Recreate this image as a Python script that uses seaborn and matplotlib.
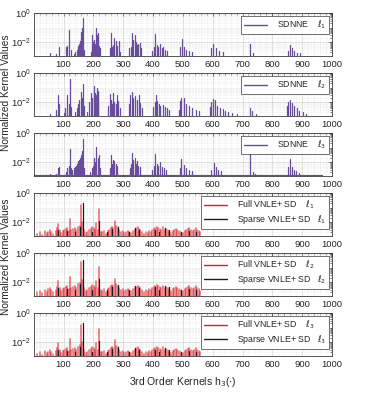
import numpy as np
import pandas as pd
import matplotlib
matplotlib.use("Agg")
import matplotlib.pyplot as plt
from matplotlib.lines import Line2D
from matplotlib.ticker import MultipleLocator, LogLocator, NullFormatter
import seaborn as sns

# ---- data (kernel magnitudes, in units of 1e-3) ----

sdnne_l1_pos = [55, 75, 84, 108, 113, 120, 125, 136, 140, 144, 147, 150, 153, 156, 158, 160, 162, 164, 167,
                192, 195, 197, 200, 203, 206, 209, 212, 216, 219, 222,
                255, 258, 262, 266, 270, 275, 280, 285, 290,
                320, 325, 330, 334, 338, 342, 346, 350, 355, 360,
                395, 402, 408, 412, 418, 424, 430, 435, 440, 448,
                490, 497, 503, 512, 521, 530,
                593, 602, 611, 622, 634, 725, 734,
                851, 858, 866, 873, 884, 893]
sdnne_l1_val = [1.8, 1.7, 5, 4.5, 6, 70, 3, 1.5, 2, 3, 4, 6, 8, 12, 20, 50, 100, 450, 3,
                2, 6, 30, 10, 15, 8, 100, 30, 40, 6, 4,
                4, 40, 5, 7, 20, 12, 6, 12, 2,
                4, 5, 40, 15, 30, 10, 7, 8, 9, 4,
                2.5, 5, 35, 7, 5, 8, 4, 5, 3, 2.5,
                5, 16, 5, 3, 2.5, 2,
                4, 8, 4, 2.5, 2, 8, 1.8,
                2.7, 7, 4, 2.5, 1.8, 1.8]

sdnne_l2_pos = [56, 76, 82, 86, 100, 106, 113, 117, 121, 125,
                140, 144, 148, 152, 157, 161, 165, 168,
                180, 186, 192, 196, 201, 205, 208, 211, 214, 217,
                250, 255, 258, 262, 266, 270, 275, 279, 284, 288,
                318, 324, 330, 334, 340, 346, 352, 357, 362,
                400, 405, 410, 414, 419, 425, 432, 440, 448, 455,
                487, 491, 495, 503, 512, 521, 532, 543, 555,
                591, 596, 602, 608, 615, 625, 634, 641, 653, 664, 680,
                725, 733, 745,
                848, 854, 860, 865, 873, 882, 891, 902, 913]
sdnne_l2_val = [1.5, 3, 30, 8, 1.8, 4, 30, 8, 370, 5,
                2, 4, 8, 15, 50, 20, 190, 6,
                2, 10, 40, 20, 130, 40, 30, 100, 20, 60,
                6, 35, 15, 8, 40, 10, 8, 30, 12, 4,
                8, 30, 50, 20, 25, 15, 30, 9, 4,
                5, 10, 30, 12, 8, 6, 7, 5, 4, 3,
                3, 12, 21, 21, 8, 6, 4.3, 3, 2.5,
                4.5, 11, 18, 14, 6, 4, 3.5, 2.5, 2, 1.8, 1.5,
                4.3, 2.5, 1.7,
                6, 11, 14, 9, 6, 4, 2.5, 2, 1.7]

sdnne_l3_pos = [55, 75, 80, 85, 108, 113, 117, 121, 125,
                130, 134, 138, 141, 144, 147, 150, 153, 156, 159, 162, 164, 167,
                190, 194, 198, 202, 206, 210, 214, 218, 222,
                255, 258, 262, 266, 270, 275, 280,
                322, 326, 330, 334, 338, 342, 346, 350, 355,
                396, 402, 408, 412, 418, 424, 430, 436, 444,
                490, 495, 503, 512, 521, 530,
                596, 604, 611, 618, 628, 725, 734, 742,
                851, 860, 866, 873, 880, 890]
sdnne_l3_val = [1.5, 1.5, 4, 5, 2, 4, 6, 80, 4,
                3, 4, 5, 6, 8, 10, 12, 15, 20, 30, 60, 420, 4,
                2, 4, 6, 20, 10, 110, 20, 30, 4,
                4, 30, 8, 15, 12, 8, 6,
                4, 8, 45, 15, 20, 8, 12, 6, 5,
                3, 6, 35, 8, 6, 10, 5, 4, 3,
                4, 18, 7, 4, 3, 2.5,
                3, 9, 5, 3, 2.5, 50, 2, 1.7,
                5, 18, 5, 3, 2.5, 1.8]
sdnne_l3_floor = 1.2      # flat baseline of the l3 kernel vector
sdnne_l3_last = 970

full_pos = [12, 20, 28, 37, 43, 48, 54, 58, 66, 74,
            79, 82, 87, 92, 98, 103, 108, 112, 117, 121,
            126, 131, 137, 142, 148, 154, 158, 162, 168, 174,
            180, 185, 191, 197, 203, 207, 210, 214, 219, 224,
            230, 236, 242, 248, 253, 258, 262, 267, 272, 277,
            282, 287, 293, 298, 304, 310, 315, 321, 327, 333,
            338, 343, 348, 352, 357, 363, 370, 376, 382, 388,
            393, 398, 403, 408, 413, 418, 423, 428, 434, 439,
            444, 449, 455, 460, 466, 472, 477, 482, 488, 494,
            500, 506, 512, 517, 522, 528, 533, 538, 543, 548,
            553, 558]
full_l1 = [1.6, 2.0, 1.4, 2.5, 1.8, 2.0, 3.0, 2.2, 1.5, 2.5,
           4.0, 8.0, 3.0, 1.8, 2.5, 3.0, 3.5, 4.0, 2.5, 18,
           3.0, 3.5, 4.0, 3.0, 5.0, 6.0, 150, 10, 3.0, 1.8,
           2.0, 3.0, 3.5, 5.0, 4.0, 3.0, 9.0, 3.0, 85, 2.0,
           2.0, 2.5, 1.6, 2.5, 3.0, 4.0, 5.0, 4.0, 13, 6.0,
           5.0, 3.0, 2.0, 2.5, 1.8, 2.0, 2.5, 2.0, 1.8, 2.5,
           3.0, 4.0, 4.5, 3.5, 3.0, 2.0, 1.6, 2.0, 1.8, 2.5,
           2.0, 3.0, 3.5, 4.0, 5.0, 4.0, 3.5, 3.0, 4.5, 3.0,
           3.5, 3.0, 2.0, 1.8, 2.5, 3.0, 3.5, 3.0, 2.5, 2.0,
           1.8, 2.5, 3.0, 3.5, 4.0, 3.0, 2.5, 3.0, 4.0, 3.0,
           2.5, 2.0]
full_l2 = [2.0, 2.5, 1.8, 3.0, 2.2, 3.5, 4.0, 3.0, 2.0, 3.0,
           5.0, 12, 4.0, 2.5, 3.5, 4.0, 5.0, 6.0, 3.5, 22,
           4.0, 5.0, 6.0, 4.0, 8.0, 9.0, 250, 15, 4.0, 2.5,
           3.0, 4.0, 5.0, 7.0, 6.0, 4.0, 12, 4.0, 110, 3.0,
           2.5, 3.5, 2.2, 3.5, 4.0, 5.5, 7.0, 5.5, 16, 8.0,
           6.0, 4.0, 3.0, 3.5, 2.5, 3.0, 3.5, 3.0, 2.5, 3.5,
           4.0, 5.0, 6.0, 5.0, 4.0, 3.0, 2.2, 3.0, 2.5, 3.5,
           3.0, 4.0, 5.0, 6.0, 7.0, 5.5, 5.0, 4.0, 6.0, 4.0,
           5.0, 4.0, 3.0, 2.5, 3.5, 4.0, 5.0, 4.0, 3.5, 3.0,
           2.5, 3.5, 4.0, 5.0, 6.0, 4.0, 3.5, 4.0, 5.5, 4.0,
           3.5, 2.5]
full_l3 = [1.6, 2.0, 1.4, 2.5, 1.8, 2.2, 3.0, 2.2, 1.5, 2.5,
           4.0, 8.5, 3.0, 1.8, 2.5, 3.0, 3.5, 4.0, 2.5, 18,
           3.0, 3.5, 4.0, 3.0, 5.0, 6.5, 140, 10, 3.0, 1.8,
           2.0, 3.0, 3.5, 5.0, 4.0, 3.0, 9.5, 3.0, 80, 2.0,
           2.0, 2.5, 1.6, 2.5, 3.0, 4.0, 5.0, 4.0, 14, 6.0,
           5.0, 3.0, 2.0, 2.5, 1.8, 2.0, 2.5, 2.0, 1.8, 2.5,
           3.0, 4.0, 4.5, 3.5, 3.0, 2.0, 1.6, 2.0, 1.8, 2.5,
           2.0, 3.0, 3.5, 4.0, 5.0, 4.0, 3.5, 3.0, 4.5, 3.0,
           3.5, 3.0, 2.0, 1.8, 2.5, 3.0, 3.5, 3.0, 2.5, 2.0,
           1.8, 2.5, 3.0, 3.5, 4.0, 3.0, 2.5, 3.0, 4.0, 3.0,
           2.5, 2.0]

sparse_pos = [82, 112, 137, 155, 165, 197, 219, 245, 262, 282,
              318, 340, 352, 405, 420, 440, 452, 495, 520, 545]
sparse_l1 = [3.0, 2.5, 2.0, 5.0, 220, 2.0, 12, 2.0, 3.5, 5.0,
             2.0, 4.0, 3.0, 3.0, 2.0, 4.0, 3.0, 2.0, 2.5, 2.0]
sparse_l2 = [4.0, 3.5, 3.0, 8.0, 350, 3.0, 18, 3.0, 5.0, 7.0,
             3.0, 6.0, 4.0, 4.5, 3.0, 6.0, 4.5, 3.0, 3.5, 3.0]
sparse_l3 = [3.0, 2.5, 2.0, 5.0, 200, 2.0, 12, 2.0, 3.5, 5.0,
             2.0, 4.0, 3.0, 3.0, 2.0, 4.0, 3.0, 2.0, 2.5, 2.0]

x_ticks = [100, 200, 300, 400, 500, 600, 700, 800, 900, 1000]
ell = [r'$\ell_1$', r'$\ell_2$', r'$\ell_3$']

PURPLE = '#6a4c9e'
RED = '#e3161d'
BLACK = '#1c1c1c'
FRAME = '#3a3a3a'
FLOOR = 0.9   # milli, just under the axis bottom so spikes start off-axis

sns.set_theme(style='white')
plt.rcParams['font.family'] = ['Liberation Sans', 'DejaVu Sans']
plt.rcParams['mathtext.fontset'] = 'dejavusans'


def spikes(ax, pos, milli, color, lw, alpha=1.0):
    # each kernel coefficient as a vertical segment from the floor
    n = len(pos)
    df = pd.DataFrame({
        'x': np.repeat(pos, 2),
        'y': np.column_stack([np.full(n, FLOOR), milli]).ravel() * 1e-3,
        'k': np.repeat(np.arange(n), 2),
    })
    sns.lineplot(data=df, x='x', y='y', units='k', estimator=None, sort=False,
                 color=color, lw=lw, alpha=alpha, ax=ax, legend=False)
    ax.set_xlabel('')
    ax.set_ylabel('')


def style_axis(ax):
    ax.set_yscale('log')
    ax.set_xlim(1, 1000)
    ax.set_ylim(1.15e-3, 1)
    ax.set_xticks(x_ticks)
    ax.xaxis.set_minor_locator(MultipleLocator(20))
    ax.set_yticks([1e-2, 1])
    ax.yaxis.set_minor_locator(LogLocator(base=10, subs=np.arange(1, 10), numticks=20))
    ax.yaxis.set_minor_formatter(NullFormatter())
    ax.grid(which='major', color='#d4d4d4', lw=0.5)
    ax.grid(which='minor', color='#dcdcdc', lw=0.4, ls=':')
    ax.set_axisbelow(True)
    ax.tick_params(which='both', direction='in', top=True, right=True,
                   labelsize=6.8, colors='#262626', pad=3)
    ax.tick_params(axis='y', which='major', pad=2)
    ax.tick_params(which='major', length=2.5, width=0.5)
    ax.tick_params(which='minor', length=1.3, width=0.4)
    for s in ax.spines.values():
        s.set_color(FRAME)
        s.set_linewidth(0.6)


def add_legend(ax, handles, labels):
    leg = ax.legend(handles, labels, loc='upper right', fontsize=6.3, frameon=True,
                    fancybox=False, framealpha=1, edgecolor=FRAME, handlelength=2.6,
                    borderpad=0.35, labelspacing=0.25, borderaxespad=0.3, handletextpad=1.2)
    leg.get_frame().set_linewidth(0.5)


fig = plt.figure(figsize=(3.69, 4.03), dpi=100)
W, H = 369, 403
axes = []
for k in range(6):
    top = 13 + 60 * k
    axes.append(fig.add_axes([34 / W, 1 - (top + 43) / H, 298 / W, 43 / H]))

sdnne = [(sdnne_l1_pos, sdnne_l1_val), (sdnne_l2_pos, sdnne_l2_val), (sdnne_l3_pos, sdnne_l3_val)]
for i, (p, v) in enumerate(sdnne):
    ax = axes[i]
    style_axis(ax)
    spikes(ax, p, v, PURPLE, 0.9)
    if i == 2:
        ax.hlines(sdnne_l3_floor * 1e-3, 1, sdnne_l3_last, color=PURPLE, lw=1.6)
    add_legend(ax, [Line2D([], [], color=PURPLE, lw=1)], ['SDNNE    ' + ell[i]])

full = [full_l1, full_l2, full_l3]
sparse = [sparse_l1, sparse_l2, sparse_l3]
for i in range(3):
    ax = axes[3 + i]
    style_axis(ax)
    spikes(ax, full_pos, full[i], RED, 1.2, alpha=0.6)
    spikes(ax, sparse_pos, sparse[i], BLACK, 0.9)
    add_legend(ax, [Line2D([], [], color=RED, lw=1), Line2D([], [], color=BLACK, lw=1)],
               ['Full VNLE+ SD    ' + ell[i], 'Sparse VNLE+ SD   ' + ell[i]])

fig.text(6.5 / W, 1 - 93 / H, 'Normalized Kernel Values', rotation=90,
         ha='center', va='center', fontsize=7.3, color='#262626')
fig.text(6.5 / W, 1 - 257 / H, 'Normalized Kernel Values', rotation=90,
         ha='center', va='center', fontsize=7.3, color='#262626')
fig.text(183 / W, 1 - 382 / H, r'3rd Order Kernels h$_3$($\cdot$)',
         ha='center', va='center', fontsize=7.5, color='#262626')

fig.savefig('out.png', dpi=100)
